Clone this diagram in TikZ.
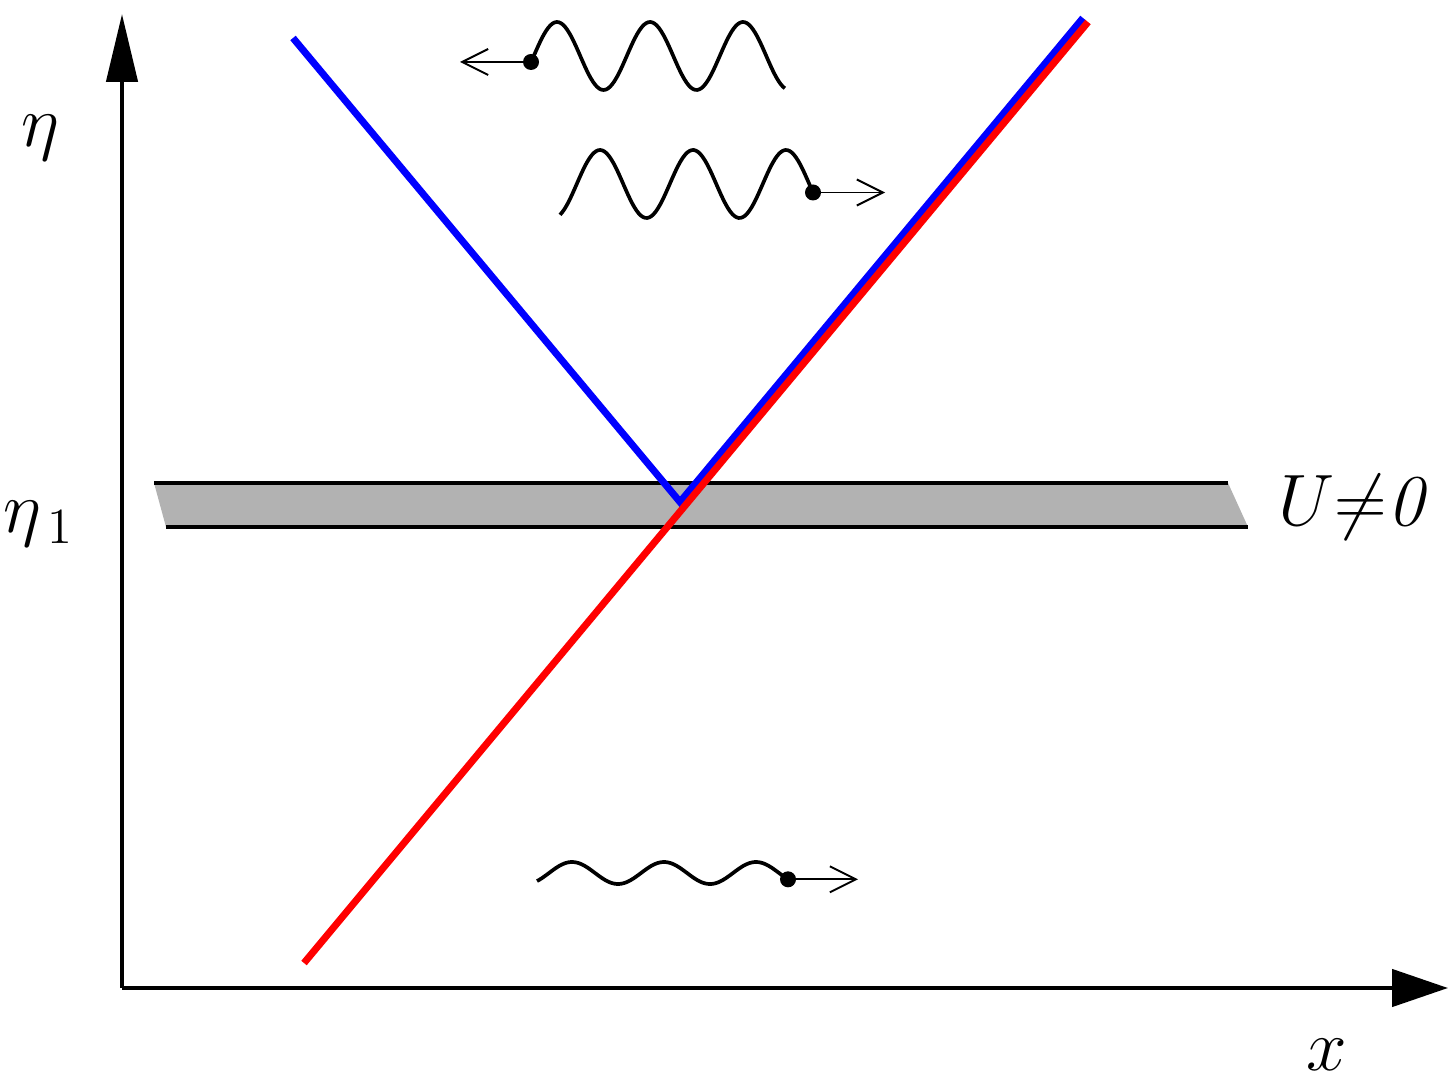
\documentclass[tikz,border=0pt]{standalone}
\usetikzlibrary{arrows.meta}

\tikzset{
  axis/.style={line width=1.3pt},
  edge/.style={line width=1.3pt},
  mode/.style={line width=2.0pt},
  wave/.style={line width=1.05pt, smooth, samples=120},
  kick/.style={line width=0.55pt, -{Straight Barb[length=2.6mm,width=2.6mm]}},
  dotmark/.style={fill=black},
  lbl/.style={font=\fontsize{22}{26}\selectfont, inner sep=0pt},
}

\begin{document}
\begin{tikzpicture}
\useasboundingbox (0,0) rectangle (14.5,10.88);

% Axes
\coordinate (O) at (1.22,1.00);
\coordinate (etatip) at (1.22,10.74);
\coordinate (xtip) at (14.48,1.00);
\draw[axis, -{Triangle[length=6.8mm,width=3.1mm]}] (O) -- (etatip);
\draw[axis, -{Triangle[length=5.6mm,width=3.7mm]}] (O) -- (xtip);

% Axis labels
\node[lbl] (eta) at (0.40,9.50) {$\eta$};
\node[lbl] (eta1) at (0.39,5.64) {$\eta_{\,1}$};
\node[lbl] (xlab) at (13.27,0.33) {$x$};

% Layer where U is switched on
\coordinate (bandTL) at (1.54,6.05);
\coordinate (bandTR) at (12.28,6.05);
\coordinate (bandBR) at (12.48,5.61);
\coordinate (bandBL) at (1.66,5.61);
\fill[black!30] (bandTL) -- (bandTR) -- (bandBR) -- (bandBL) -- cycle;
\draw[edge] (bandTL) -- (bandTR);
\draw[edge] (bandBL) -- (bandBR);
\node[lbl] (Ulab) at (13.56,5.81) {$U{\neq}\mathit{0}$};

% Reflected and transmitted rays
\coordinate (bleft) at (2.93,10.50);
\coordinate (bvert) at (6.80,5.86);
\coordinate (bright) at (10.83,10.70);
\draw[mode, blue] (bleft) -- (bvert) -- (bright);

% Incoming ray
\coordinate (rlow) at (3.04,1.25);
\coordinate (rhigh) at (10.88,10.66);
\draw[mode, red] (rlow) -- (rhigh);

% Outgoing wave to the left
\draw[wave] plot[domain=5.31:7.85] (\x,{10.32+0.34*cos(360*(\x-5.57)/0.93)});
\coordinate (w1) at (5.31,10.26);
\coordinate (w1tip) at (4.60,10.26);
\fill[dotmark] (w1) circle (0.08);
\draw[kick] (w1) -- (w1tip);

% Outgoing wave to the right
\draw[wave] plot[domain=5.60:8.13] (\x,{9.04+0.34*cos(360*(\x-6.00)/0.93)});
\coordinate (w2) at (8.13,8.955);
\coordinate (w2tip) at (8.85,8.955);
\fill[dotmark] (w2) circle (0.08);
\draw[kick] (w2) -- (w2tip);

% Incoming wave
\draw[wave] plot[domain=5.37:7.88] (\x,{2.15+0.11*cos(360*(\x-5.72)/0.92)});
\coordinate (w3) at (7.88,2.087);
\coordinate (w3tip) at (8.58,2.087);
\fill[dotmark] (w3) circle (0.08);
\draw[kick] (w3) -- (w3tip);

\end{tikzpicture}
\end{document}
